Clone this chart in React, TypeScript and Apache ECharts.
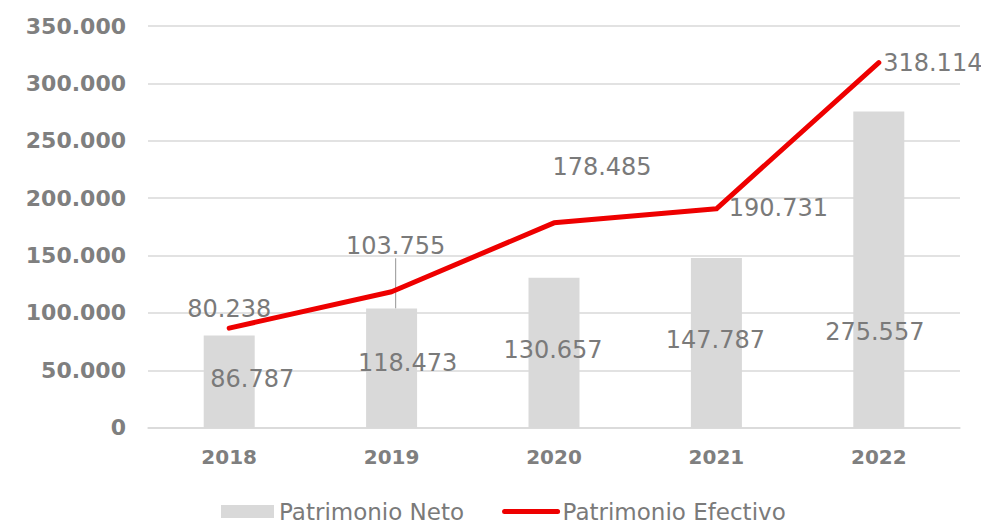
import React, { useEffect, useRef } from "react";
import * as echarts from "echarts";

const categories = ["2018", "2019", "2020", "2021", "2022"];
const patrimonioNeto = [80238, 103755, 130657, 147787, 275557];
const patrimonioEfectivo = [86787, 118473, 178485, 190731, 318114];
const yTicks = [0, 50000, 100000, 150000, 200000, 250000, 300000, 350000];

// label displacements (px) relative to default label anchor
const barLabelShift = [
  [0, -73],
  [4, -122],
  [-1, -3],
  [-1, -3],
  [-4, 62],
];
const lineLabelShift = [
  [23, 51],
  [16, 71],
  [48, -56],
  [62, -1],
  [54, 0],
];

const fmt = (v: number) =>
  Math.round(v)
    .toString()
    .replace(/\B(?=(\d{3})+(?!\d))/g, ".");

const THIN = "'DejaVu Sans'";

export default function App() {
  const ref = useRef<HTMLDivElement>(null);
  useEffect(() => {
    document.body.style.margin = "0";
    const chart = echarts.init(ref.current!, null, { renderer: "svg" });
    const labelFont = {
      fontFamily: THIN,
      fontWeight: "normal" as any,
      fontSize: 24,
      color: "#7a7a7a",
    };
    chart.setOption({
      animation: false,
      grid: { left: 148, right: 21, top: 26, bottom: 95.3 },
      legend: {
        left: 221,
        top: 500,
        padding: 0,
        itemWidth: 53,
        itemHeight: 13,
        itemGap: 38,
        textStyle: {
          fontFamily: THIN,
          fontSize: 23,
          color: "#7a7a7a",
        },
        data: [
          { name: "Patrimonio Neto", icon: "rect" },
          {
            name: "Patrimonio Efectivo",
            itemStyle: { opacity: 0 },
            lineStyle: { width: 5, cap: "round" },
          },
        ],
      },
      xAxis: {
        type: "category",
        data: categories,
        axisLine: { lineStyle: { color: "#d9d9d9", width: 1.5 } },
        axisTick: { show: false },
        axisLabel: {
          fontFamily: "DejaVu Sans",
          fontWeight: "bold",
          fontSize: 20,
          color: "#7f7f7f",
          margin: 19,
        },
      },
      yAxis: {
        type: "value",
        min: yTicks[0],
        max: yTicks[yTicks.length - 1],
        interval: yTicks[1] - yTicks[0],
        axisLine: { show: false },
        axisTick: { show: false },
        splitLine: { lineStyle: { color: "#d9d9d9", width: 1.5 } },
        axisLabel: {
          fontFamily: "DejaVu Sans",
          fontWeight: "bold",
          fontSize: 22,
          color: "#7f7f7f",
          margin: 22,
          formatter: (v: number) => fmt(v),
        },
      },
      series: [
        {
          name: "Patrimonio Neto",
          type: "bar",
          barWidth: 51,
          itemStyle: { color: "#d9d9d9" },
          data: patrimonioNeto.map((v, i) => ({
            value: v,
            labelLine: {
              show: i === 1,
              lineStyle: { color: "#a6a6a6", width: 1.2 },
            },
          })),
          label: {
            show: true,
            position: "inside",
            ...labelFont,
            formatter: (p: any) => fmt(p.value),
          },
          labelLayout: (p: any) => ({
            dx: barLabelShift[p.dataIndex][0],
            dy: barLabelShift[p.dataIndex][1],
          }),
          z: 1,
        },
        {
          name: "Patrimonio Efectivo",
          type: "line",
          data: patrimonioEfectivo,
          symbol: "circle",
          symbolSize: 1,
          showSymbol: true,
          itemStyle: { color: "#ee0000" },
          lineStyle: { color: "#ee0000", width: 5, cap: "round", join: "round" },
          label: {
            show: true,
            position: "inside",
            ...labelFont,
            formatter: (p: any) => fmt(p.value),
          },
          labelLayout: (p: any) => ({
            dx: lineLabelShift[p.dataIndex][0],
            dy: lineLabelShift[p.dataIndex][1],
          }),
          z: 3,
        },
      ],
    });
    return () => chart.dispose();
  }, []);
  return <div ref={ref} style={{ width: 981, height: 523 }} />;
}
